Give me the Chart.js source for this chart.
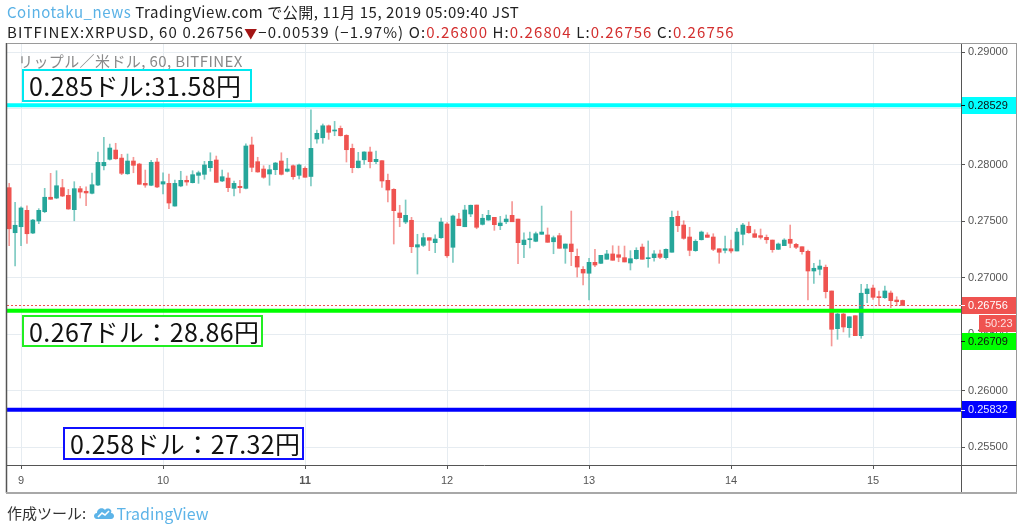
<!DOCTYPE html>
<html>
<head>
<meta charset="utf-8">
<script src="https://cdn.jsdelivr.net/npm/chart.js@4.4.0/dist/chart.umd.min.js"></script>
<style>
html,body{margin:0;padding:0;background:#fff;}
#wrap{position:relative;width:1024px;height:530px;overflow:hidden;font-family:"Noto Sans CJK JP","Noto Sans",sans-serif;}
#c{position:absolute;left:0;top:0;}
.line{position:absolute;left:7px;white-space:nowrap;font-size:15px;line-height:18px;color:#222;}
.blue{color:#5ab2e6;}
.red{color:#d32f2f;}
.tri{color:#a31515;font-size:13px;}
.sub{position:absolute;left:18px;top:52px;font-size:15px;line-height:18px;color:#8a8a8a;white-space:nowrap;letter-spacing:0.4px;}
.box{position:absolute;box-sizing:border-box;background:#fff;color:#111;font-size:25px;white-space:nowrap;padding-left:5px;letter-spacing:0.4px;}
.foot{position:absolute;left:7px;top:503px;font-size:15px;line-height:20px;color:#333;white-space:nowrap;display:flex;align-items:center;}
.foot .tv{color:#5db4e8;font-size:16px;}
</style>
</head>
<body>
<div id="wrap">
<canvas id="c" width="1024" height="530"></canvas>
<div class="line" style="top:3px;letter-spacing:0.55px;"><span class="blue">Coinotaku_news</span> TradingView.com で公開, 11月 15, 2019 05:09:40 JST</div>
<div class="line" style="top:23px;letter-spacing:1.1px;">BITFINEX:XRPUSD, 60 0.26756<span class="tri">▼</span>−0.00539 (−1.97%) O:<span class="red">0.26800</span> H:<span class="red">0.26804</span> L:<span class="red">0.26756</span> C:<span class="red">0.26756</span></div>
<div class="sub">リップル／米ドル, 60, BITFINEX</div>
<div id="boxes"></div>
<div class="foot">作成ツール:&nbsp;<svg width="22" height="14" viewBox="0 0 22 14" style="margin:0 2px 0 3px;"><path d="M4 13 C0 13 0 7 4 7 C4 2 10 1 12 4 C14 1 20 3 18 7 C22 7 22 13 18 13 Z" fill="#5db4e8"/><path d="M5 11 L9 7 L12 9 L16 5" stroke="#fff" stroke-width="1.6" fill="none"/></svg><span class="tv">TradingView</span></div>
</div>
<script>
// ---- data (BITFINEX XRPUSD, 1h candles; first candle = 8日 22:00) ----
const openP = [0.27799,0.27400,0.27453,0.27598,0.27397,0.27504,0.27586,0.27714,0.27707,0.27799,0.27731,0.27604,0.27790,0.27767,0.27749,0.27822,0.27993,0.28050,0.28132,0.28061,0.27922,0.28035,0.28008,0.27837,0.27820,0.28026,
0.27831,0.27837,0.27636,0.27814,0.27864,0.27843,0.27908,0.27917,0.27976,0.28044,0.27858,0.27884,0.27793,0.27811,0.27793,0.28177,0.28029,0.27964,0.27920,0.27958,0.28035,0.27944,0.27993,0.27908,
0.27970,0.27898,0.28230,0.28241,0.28347,0.28301,0.28324,0.28262,0.28147,0.27976,0.28046,0.28115,0.28029,0.28038,0.27864,0.27784,0.27575,0.27495,0.27510,0.27273,0.27288,0.27356,0.27312,0.27356,
0.27477,0.27271,0.27521,0.27453,0.27566,0.27645,0.27474,0.27512,0.27536,0.27462,0.27497,0.27554,0.27521,0.27294,0.27338,0.27324,0.27386,0.27380,0.27320,0.27374,0.27262,0.27300,0.27191,0.27076,
0.27041,0.27138,0.27129,0.27165,0.27212,0.27205,0.27179,0.27132,0.27170,0.27273,0.27170,0.27179,0.27212,0.27179,0.27227,0.27545,0.27468,0.27362,0.27241,0.27338,0.27380,0.27362,0.27258,0.27244,
0.27258,0.27238,0.27386,0.27457,0.27391,0.27374,0.27359,0.27335,0.27253,0.27285,0.27342,0.27297,0.27276,0.27235,0.27061,0.27076,0.27094,0.26884,0.26550,0.26680,0.26559,0.26665,0.26488,0.26860,
0.26910,0.26833,0.26825,0.26866,0.26804,0.26800];
const highP = [0.27837,0.27669,0.27630,0.27639,0.27519,0.27613,0.27793,0.27926,0.27949,0.27873,0.27784,0.27852,0.27811,0.27807,0.27929,0.28115,0.28245,0.28185,0.28192,0.28094,0.28097,0.28068,0.28015,0.27955,0.28041,0.28059,
0.27931,0.27920,0.27867,0.27944,0.27902,0.27949,0.27946,0.28032,0.28108,0.28079,0.27955,0.27931,0.27858,0.27864,0.28188,0.28247,0.28068,0.27993,0.27997,0.28023,0.28108,0.28059,0.28000,0.28008,
0.27984,0.28489,0.28309,0.28363,0.28354,0.28386,0.28345,0.28268,0.28185,0.28112,0.28117,0.28159,0.28123,0.28038,0.27920,0.27790,0.27643,0.27690,0.27536,0.27386,0.27395,0.27356,0.27382,0.27530,
0.27489,0.27557,0.27572,0.27643,0.27645,0.27645,0.27563,0.27598,0.27536,0.27545,0.27557,0.27675,0.27521,0.27400,0.27406,0.27406,0.27636,0.27442,0.27371,0.27395,0.27300,0.27592,0.27256,0.27099,
0.27173,0.27253,0.27200,0.27244,0.27285,0.27282,0.27282,0.27241,0.27267,0.27300,0.27327,0.27241,0.27247,0.27258,0.27592,0.27592,0.27506,0.27448,0.27338,0.27415,0.27400,0.27391,0.27258,0.27371,
0.27335,0.27439,0.27483,0.27495,0.27427,0.27433,0.27380,0.27335,0.27309,0.27347,0.27468,0.27306,0.27276,0.27247,0.27129,0.27158,0.27114,0.26884,0.26686,0.26686,0.26656,0.26665,0.26943,0.26943,
0.26937,0.26884,0.26928,0.26884,0.26833,0.26804];
const lowP = [0.27285,0.27105,0.27285,0.27306,0.27391,0.27480,0.27577,0.27696,0.27701,0.27719,0.27607,0.27506,0.27707,0.27639,0.27743,0.27816,0.27955,0.28044,0.28050,0.27914,0.27917,0.27931,0.27829,0.27802,0.27816,0.27799,
0.27743,0.27613,0.27636,0.27807,0.27820,0.27840,0.27837,0.27873,0.27944,0.27846,0.27852,0.27763,0.27725,0.27752,0.27787,0.27940,0.27935,0.27882,0.27820,0.27914,0.27911,0.27938,0.27873,0.27876,
0.27891,0.27814,0.28192,0.28192,0.28227,0.28259,0.28256,0.28026,0.27931,0.27973,0.28006,0.27973,0.28011,0.27802,0.27672,0.27300,0.27453,0.27480,0.27223,0.27034,0.27276,0.27241,0.27223,0.27350,
0.27182,0.27138,0.27462,0.27453,0.27542,0.27435,0.27468,0.27510,0.27421,0.27427,0.27480,0.27497,0.27126,0.27179,0.27265,0.27320,0.27386,0.27315,0.27214,0.27262,0.27129,0.27108,0.27008,0.26937,
0.26804,0.27099,0.27126,0.27165,0.27156,0.27143,0.27141,0.27070,0.27165,0.27165,0.27094,0.27147,0.27170,0.27165,0.27227,0.27409,0.27342,0.27196,0.27235,0.27335,0.27359,0.27241,0.27129,0.27220,
0.27220,0.27238,0.27291,0.27395,0.27359,0.27344,0.27306,0.27227,0.27250,0.27285,0.27267,0.27258,0.27209,0.26804,0.26952,0.27026,0.26822,0.26397,0.26456,0.26521,0.26474,0.26488,0.26465,0.26780,
0.26810,0.26754,0.26819,0.26736,0.26754,0.26756];
const closeP = [0.27435,0.27466,0.27619,0.27391,0.27512,0.27598,0.27714,0.27696,0.27816,0.27725,0.27610,0.27790,0.27760,0.27752,0.27825,0.28023,0.28023,0.28150,0.28055,0.27926,0.28035,0.27997,0.27829,0.27822,0.28023,0.27805,
0.27852,0.27663,0.27837,0.27864,0.27849,0.27914,0.27931,0.28000,0.28032,0.27846,0.27896,0.27799,0.27837,0.27799,0.28168,0.27979,0.27938,0.27891,0.27958,0.28017,0.27917,0.27964,0.27896,0.28000,
0.27891,0.28147,0.28280,0.28347,0.28289,0.28309,0.28259,0.28135,0.27976,0.28035,0.28115,0.28029,0.28050,0.27858,0.27778,0.27595,0.27533,0.27554,0.27276,0.27294,0.27356,0.27333,0.27344,0.27495,
0.27196,0.27548,0.27462,0.27601,0.27643,0.27448,0.27528,0.27554,0.27471,0.27486,0.27521,0.27497,0.27312,0.27335,0.27347,0.27391,0.27406,0.27315,0.27356,0.27262,0.27300,0.27232,0.27096,0.27043,
0.27138,0.27114,0.27200,0.27212,0.27156,0.27182,0.27141,0.27170,0.27244,0.27165,0.27179,0.27212,0.27182,0.27253,0.27536,0.27462,0.27350,0.27244,0.27324,0.27406,0.27359,0.27253,0.27227,0.27258,
0.27238,0.27406,0.27468,0.27400,0.27359,0.27359,0.27338,0.27250,0.27300,0.27335,0.27306,0.27271,0.27232,0.27061,0.27085,0.27105,0.26878,0.26545,0.26680,0.26565,0.26656,0.26488,0.26864,0.26902,
0.26828,0.26825,0.26884,0.26798,0.26789,0.26756];
const firstHour = -2;                 // hours relative to 11月9日 00:00
const dayTickHours = [0,24,48,72,96,120,144];
const dayLabels = ['9','10','11','12','13','14','15'];
const yTickValues = [0.255,0.26,0.265,0.27,0.275,0.28,0.285,0.29];
const levelValues = [0.28529,0.26709,0.25832];
const lastPrice = 0.26756;
const countdownText = '50:23';
const levelNotes = ['0.285ドル:31.58円','0.267ドル：28.86円','0.258ドル：27.32円'];

// ---- styles ----
const UP='#26a69a', DOWN='#ef5350', UPW='rgba(38,166,154,0.6)', DOWNW='rgba(239,83,80,0.6)';
const levelStyle = [{line:'#00ffff',bg:'#00ffff',fg:'#111'},{line:'#00ff00',bg:'#00ff00',fg:'#111'},{line:'#0000ff',bg:'#0000ff',fg:'#e8e8ff'}];
const noteBoxes = [
  {left:22,top:69,width:230,height:33,border:'#00e8f0'},
  {left:22,top:315,width:241,height:32,border:'#22ee22'},
  {left:63,top:427,width:241,height:33,border:'#1010ff'}
];
const boxesEl = document.getElementById('boxes');
levelNotes.forEach((t,k)=>{
  const b = noteBoxes[k];
  const d = document.createElement('div');
  d.className='box';
  d.textContent=t;
  d.style.cssText += `left:${b.left}px;top:${b.top}px;width:${b.width}px;height:${b.height}px;line-height:${b.height-4}px;border:2px solid ${b.border};`;
  boxesEl.appendChild(d);
});

const isUp = closeP.map((c,k)=>c>=openP[k]);
const wickData = lowP.map((l,k)=>({x:firstHour+k,y:[l,highP[k]]}));
const bodyData = openP.map((o,k)=>({x:firstHour+k,y:[o,closeP[k]]}));

const AXFONT = 'Liberation Sans';
const overlay = {
  id:'overlay',
  afterDatasetsDraw(chart){
    const {ctx, chartArea:a, scales:{y}} = chart;
    ctx.save();
    ctx.beginPath(); ctx.rect(a.left,a.top,a.right-a.left,a.bottom-a.top); ctx.clip();
    const py = Math.round(y.getPixelForValue(lastPrice))+0.5;
    ctx.strokeStyle=DOWN; ctx.lineWidth=1; ctx.setLineDash([2,2]);
    ctx.beginPath(); ctx.moveTo(a.left,py); ctx.lineTo(a.right,py); ctx.stroke();
    ctx.setLineDash([]);
    levelValues.forEach((v,k)=>{
      const p = y.getPixelForValue(v);
      ctx.strokeStyle=levelStyle[k].line; ctx.lineWidth=4;
      ctx.beginPath(); ctx.moveTo(a.left,p); ctx.lineTo(a.right,p); ctx.stroke();
    });
    ctx.restore();
  },
  afterDraw(chart){
    const {ctx, chartArea:a, scales:{x,y}} = chart;
    ctx.save();
    // frame
    ctx.strokeStyle='#555'; ctx.lineWidth=1.5;
    ctx.beginPath(); ctx.moveTo(a.left-0.5,a.top); ctx.lineTo(a.left-0.5,x.bottom); ctx.stroke();
    ctx.strokeStyle='#9a9a9a'; ctx.lineWidth=1;
    ctx.beginPath(); ctx.moveTo(a.left,a.top+0.5); ctx.lineTo(y.right,a.top+0.5); ctx.stroke();
    ctx.beginPath(); ctx.moveTo(y.right-0.5,a.top); ctx.lineTo(y.right-0.5,x.bottom); ctx.stroke();
    ctx.strokeStyle='#555';
    ctx.beginPath(); ctx.moveTo(a.right+0.5,a.bottom); ctx.lineTo(a.right+0.5,x.bottom); ctx.stroke();
    ctx.beginPath(); ctx.moveTo(a.right,a.bottom+0.5); ctx.lineTo(y.right,a.bottom+0.5); ctx.stroke();
    ctx.strokeStyle='#a8a8a8'; ctx.lineWidth=2;
    ctx.beginPath(); ctx.moveTo(a.left-1,x.bottom); ctx.lineTo(y.right,x.bottom); ctx.stroke();
    // price labels
    ctx.font = '11px '+AXFONT; ctx.textBaseline='middle'; ctx.textAlign='left';
    const L = a.right+1, W = y.right-a.right-2, H=17;
    function tag(cy,bg,fg,txt,left){
      const lx = left||L;
      ctx.fillStyle=bg; ctx.fillRect(lx,Math.round(cy-H/2),L+W-lx,H);
      ctx.fillStyle=fg;
      if(!left){ ctx.fillRect(a.right,Math.round(cy),4,1); }
      ctx.fillText(txt,left?lx+6:a.right+7,cy+0.5);
    }
    const ly = levelValues.map(v=>y.getPixelForValue(v));
    tag(ly[0],levelStyle[0].bg,levelStyle[0].fg,levelValues[0].toFixed(5));
    tag(ly[2],levelStyle[2].bg,levelStyle[2].fg,levelValues[2].toFixed(5));
    const pr = y.getPixelForValue(lastPrice);
    tag(pr,DOWN,'#fff',lastPrice.toFixed(5));
    const cdY = pr+H+1;
    tag(cdY,DOWN,'#fde2e2',countdownText,a.right+18);
    const gY = Math.max(ly[1],cdY+H+1);
    tag(gY,levelStyle[1].bg,levelStyle[1].fg,levelValues[1].toFixed(5));
    ctx.restore();
  }
};

new Chart(document.getElementById('c'),{
  type:'bar',
  data:{datasets:[
    {data:bodyData,backgroundColor:isUp.map(u=>u?UP:DOWN),barThickness:4,minBarLength:1,grouped:false,order:0,borderWidth:0},
    {data:wickData,backgroundColor:isUp.map(u=>u?UPW:DOWNW),barThickness:1,grouped:false,order:1,borderWidth:0}
  ]},
  options:{
    responsive:false,animation:false,devicePixelRatio:1,
    layout:{padding:{left:7,top:43,right:7,bottom:37}},
    plugins:{legend:{display:false},tooltip:{enabled:false}},
    scales:{
      x:{type:'linear',min:-2.37,max:158.87,offset:false,
        afterBuildTicks:s=>{s.ticks=dayTickHours.map(v=>({value:v}));},
        afterFit:s=>{s.height=28;},
        grid:{offset:false,color:'#e6ecf1',drawTicks:true,tickLength:4,tickColor:'#555'},
        border:{display:true,color:'#555',width:1},
        ticks:{padding:5,color:'#555',autoSkip:false,maxRotation:0,
          font:c=>({family:AXFONT,size:11,weight:(c.tick&&c.tick.value===48)?'bold':'normal'}),
          callback:v=>dayLabels[dayTickHours.indexOf(v)]}
      },
      y:{position:'right',min:0.25343,max:0.2908,
        afterBuildTicks:s=>{s.ticks=yTickValues.map(v=>({value:v}));},
        afterFit:s=>{s.width=56;},
        grid:{color:'#e6ecf1',drawTicks:true,tickLength:4,tickColor:'#555'},
        border:{display:true,color:'#555',width:1},
        ticks:{padding:3,color:'#555',font:{family:AXFONT,size:11},callback:v=>v.toFixed(5)}
      }
    }
  },
  plugins:[overlay]
});
</script>
</body>
</html>
